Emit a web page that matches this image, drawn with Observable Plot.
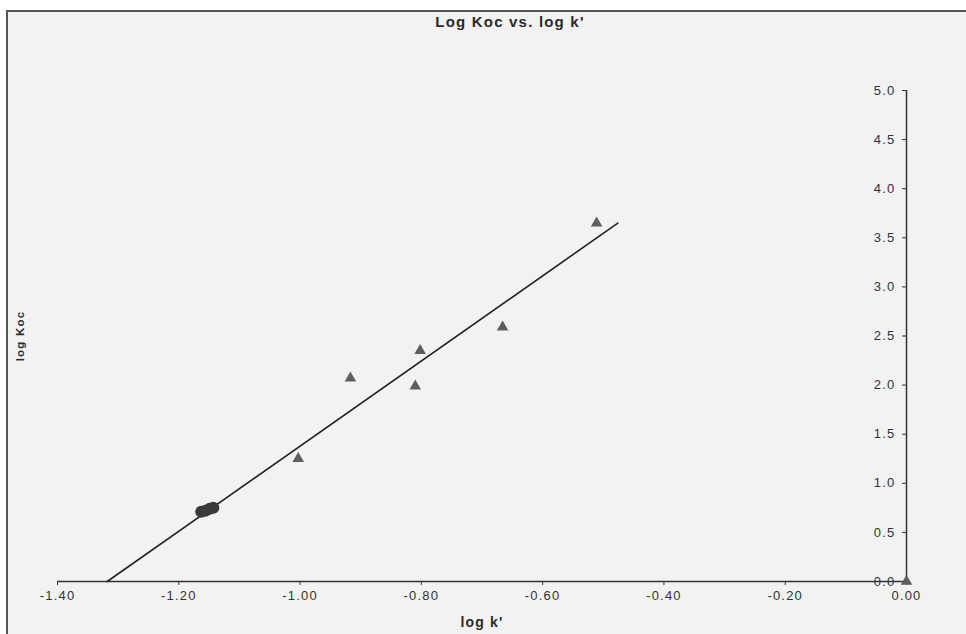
<!DOCTYPE html>
<html><head><meta charset="utf-8">
<script src="https://cdn.jsdelivr.net/npm/d3@7"></script>
<script src="https://cdn.jsdelivr.net/npm/@observablehq/plot@0.6"></script>
<style>
html,body{margin:0;padding:0;background:#fff;}
#wrap{position:relative;width:966px;height:634px;overflow:hidden;background:#fff;font-family:"Liberation Sans",Arial,sans-serif;}
#frame{position:absolute;left:6px;top:10px;width:1000px;height:700px;border-left:2px solid #555;border-top:2px solid #555;background:#f2f2f2;}
#title{position:absolute;left:310px;width:400px;top:14px;line-height:15px;text-align:center;font-size:15px;font-weight:bold;color:#2a2a2a;letter-spacing:1.2px;}
#chart{position:absolute;left:0;top:0;}
#chart svg text{letter-spacing:1.2px;}
</style>
</head><body>
<div id="wrap">
  <div id="frame"></div>
  <div id="title">Log Koc vs. log k'</div>
  <div id="chart"></div>
</div>
<script>
// Observed points (log k', log Koc)
const logK = [-1.003, -0.917, -0.810, -0.802, -0.666, -0.511, 0.0];
const logKoc = [1.25, 2.07, 1.99, 2.35, 2.59, 3.65, 0.0];
// Overlapping cluster near lower left
const clusterK = [-1.163, -1.156, -1.149, -1.143];
const clusterKoc = [0.71, 0.72, 0.74, 0.75];
// Regression line end points
const fitK = [-1.318, -0.476];
const fitKoc = [0.0, 3.65];
// Tick values
const xTicks = [-1.4, -1.2, -1.0, -0.8, -0.6, -0.4, -0.2, 0.0];
const yTicks = [0, 0.5, 1, 1.5, 2, 2.5, 3, 3.5, 4, 4.5, 5];

const points = logK.map((x, i) => ({x, y: logKoc[i]}));
const cluster = clusterK.map((x, i) => ({x, y: clusterKoc[i]}));
const fit = fitK.map((x, i) => ({x, y: fitKoc[i]}));

const chart = Plot.plot({
  width: 966, height: 634,
  marginLeft: 57, marginRight: 60, marginTop: 90, marginBottom: 53,
  style: {background: "transparent", fontFamily: "'Liberation Sans', Arial, sans-serif", fontSize: "13px", color: "#333", overflow: "visible"},
  x: {domain: [-1.4, 0]},
  y: {domain: [0, 5]},
  marks: [
    Plot.ruleY([0], {stroke: "#333", strokeWidth: 1.5}),
    Plot.ruleX([0], {stroke: "#333", strokeWidth: 1.5}),
    Plot.axisX(xTicks, {anchor: "bottom", tickSize: 4, tickPadding: 5, tickFormat: d => d.toFixed(2), label: null, stroke: "#333", fill: "#333"}),
    Plot.axisY(yTicks, {anchor: "right", tickSize: 5, dx: -5, tickFormat: () => "", label: null, stroke: "#333"}),
    Plot.axisY(yTicks, {anchor: "right", tickSize: 0, dx: -20, textAnchor: "end", tickFormat: d => d.toFixed(1), label: null, fill: "#333"}),
    Plot.line(fit, {x: "x", y: "y", stroke: "#222", strokeWidth: 1.6}),
    Plot.dot(cluster, {x: "x", y: "y", r: 6, fill: "#3a3a3a"}),
    Plot.dot(points, {x: "x", y: "y", symbol: "triangle", r: 4.3, fill: "#5e5e5e"}),
    Plot.text(["log k'"], {frameAnchor: "bottom", dy: 45, fontWeight: "bold", fontSize: 14, fill: "#2a2a2a"}),
    Plot.text(["log Koc"], {frameAnchor: "left", textAnchor: "middle", rotate: -90, dx: -37, fontWeight: "bold", fontSize: 11.5, fill: "#2a2a2a"})
  ]
});
document.getElementById("chart").appendChild(chart);
</script>
</body></html>
